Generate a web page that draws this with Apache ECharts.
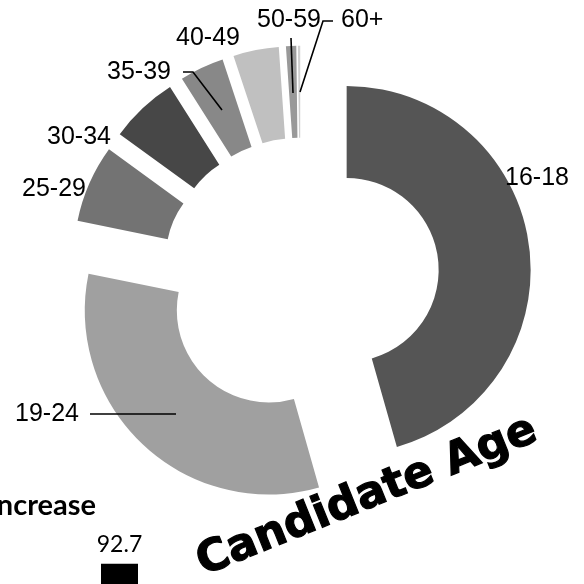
<!DOCTYPE html>
<html><head><meta charset="utf-8">
<script src="https://cdn.jsdelivr.net/npm/echarts@6/dist/echarts.min.js"></script>
<style>html,body{margin:0;padding:0;background:#fff}#c{width:584px;height:584px}</style>
</head><body><div id="c"></div>
<script>
// ---- data ----
const categories = ['16-18', '19-24', '25-29', '30-34', '35-39', '40-49', '50-59', '60+'];
const shares = [45.6, 32.6, 6.8, 6.0, 3.9, 4.0, 0.9, 0.2];
const barCategories = ['Increase'];
const barValues = [92.7];

// ---- styles / layout ----
const sliceColors = ['#555555', '#a0a0a0', '#737373', '#474747', '#888888', '#c0c0c0', '#999999', '#d0d0d0'];
const labelLayouts = [
  { x: 505, y: 178 },
  { x: 15, y: 414, line: [[90, 414], [90, 414], [176, 414]] },
  { x: 22, y: 189 },
  { x: 47, y: 137 },
  { x: 107, y: 72, line: [[183, 72], [193, 72], [222, 110]] },
  { x: 176, y: 38 },
  { x: 257, y: 20, line: [[291, 38], [291, 38], [293, 93]] },
  { x: 341, y: 20, line: [[333, 21], [323, 21], [300, 92]] }
];
const pieCenter = [300.5, 276.3];
const pieRadius = [92, 184];

const chart = echarts.init(document.getElementById('c'), null, { renderer: 'canvas' });

const pieData = categories.map((name, i) => ({
  name: name,
  value: shares[i],
  selected: true,
  itemStyle: { color: sliceColors[i], borderWidth: 0 },
  select: { itemStyle: { color: sliceColors[i], borderWidth: 0 } }
}));

const labelData = categories.map((name, i) => ({
  name: name,
  value: shares[i],
  labelLine: { show: !!labelLayouts[i].line }
}));

chart.setOption({
  animation: false,
  backgroundColor: '#ffffff',
  grid: { left: 101, width: 37, top: 560, height: 200 },
  xAxis: { type: 'category', data: barCategories, show: false },
  yAxis: { type: 'value', min: 0, max: 100, show: false },
  series: [
    {
      type: 'pie',
      z: 2,
      center: pieCenter,
      radius: pieRadius,
      startAngle: 90,
      clockwise: true,
      selectedMode: 'multiple',
      selectedOffset: 46.6,
      emphasis: { disabled: true },
      label: { show: false },
      labelLine: { show: false },
      data: pieData
    },
    {
      // label layer for the same slices (unexploded, invisible sectors)
      type: 'pie',
      z: 6,
      center: pieCenter,
      radius: pieRadius,
      startAngle: 90,
      clockwise: true,
      silent: true,
      selectedMode: false,
      avoidLabelOverlap: false,
      emphasis: { disabled: true },
      itemStyle: { color: 'rgba(0,0,0,0)', borderWidth: 0 },
      label: {
        show: true,
        position: 'outside',
        formatter: '{b}',
        color: '#000',
        fontSize: 25,
        fontFamily: 'Liberation Sans, Arial, sans-serif'
      },
      labelLine: { show: true, lineStyle: { color: '#000', width: 1.6 } },
      labelLayout: function (p) {
        const L = labelLayouts[p.dataIndex];
        const o = { x: L.x, y: L.y, align: 'left', verticalAlign: 'middle' };
        if (L.line) o.labelLinePoints = L.line;
        return o;
      },
      data: labelData
    },
    {
      type: 'bar',
      data: barValues,
      barWidth: '100%',
      itemStyle: { color: '#000' },
      label: {
        show: true, position: 'top', distance: 8,
        color: '#000', fontSize: 23, fontFamily: 'Lato, sans-serif'
      }
    }
  ],
  graphic: [
    {
      type: 'text', x: 96, y: 520,
      style: { text: 'Increase', align: 'right', verticalAlign: 'bottom',
        font: 'bold 29px Lato, sans-serif', fill: '#000' }
    },
    {
      type: 'text', x: 367, y: 497, rotation: 22 * Math.PI / 180,
      style: { text: 'Candidate Age', align: 'center', verticalAlign: 'middle',
        font: 'bold 44px "DejaVu Sans", sans-serif', fill: '#000',
        stroke: '#000', lineWidth: 1.2 }
    }
  ]
});
</script>
</body></html>
